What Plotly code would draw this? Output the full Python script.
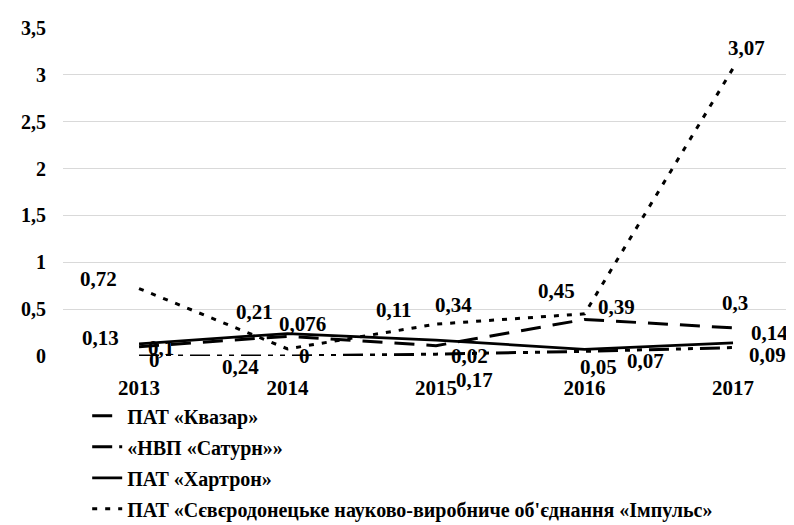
import plotly.graph_objects as go

years = ["2013", "2014", "2015", "2016", "2017"]
series_names = [
    "ПАТ «Квазар»",
    "«НВП «Сатурн»»",
    "ПАТ «Хартрон»",
    "ПАТ «Сєвєродонецьке науково-виробниче об'єднання «Імпульс»",
]
kvazar = [0.1, 0.21, 0.11, 0.39, 0.3]
saturn = [0, 0, 0.02, 0.05, 0.09]
hartron = [0.13, 0.24, 0.17, 0.07, 0.14]
impuls = [0.72, 0.076, 0.34, 0.45, 3.07]
y_ticks = [0, 0.5, 1, 1.5, 2, 2.5, 3, 3.5]

# label offsets in pixels (dx right, dy down) relative to each point
label_offsets = [
    [(22, 1), (-33, -24), (-42, -36), (32, -12), (2, -25)],
    [(15, 4), (17, 0), (33, 2), (14, 16), (34, 7)],
    [(-39, -6), (-47, 33), (38, 40), (61, 12), (36, -10)],
    [(-41, -10), (15, -25), (17, -19), (-28, -23), (13, -20)],
]
dashes = ["20px,12px", "20px,7px,5px,7px,5px,7px", "solid", "5px,8px"]
widths = [3, 3, 2.75, 3]

FONT = "Liberation Serif, Times New Roman, serif"
all_series = [kvazar, saturn, hartron, impuls]

fig = go.Figure()
for i, (name, vals) in enumerate(zip(series_names, all_series)):
    fig.add_trace(go.Scatter(
        x=years, y=vals, mode="lines", name=name,
        line=dict(color="black", width=widths[i], dash=dashes[i]),
        legendgroup=f"g{i}", hoverinfo="skip",
    ))

def fmt(v):
    return ("%g" % v).replace(".", ",")

annotations = []
for vals, offs in zip(all_series, label_offsets):
    for idx, (v, (dx, dy)) in enumerate(zip(vals, offs)):
        annotations.append(dict(
            x=idx, y=v, xref="x", yref="y", text="<b>" + fmt(v) + "</b>",
            showarrow=False, xshift=dx, yshift=-dy,
            font=dict(family=FONT, size=21, color="black"),
        ))

fig.update_layout(
    width=794, height=525,
    margin=dict(l=55, r=6, t=20, b=177, autoexpand=False),
    paper_bgcolor="white", plot_bgcolor="white",
    separators=", ",
    font=dict(family=FONT, size=20, color="black", weight="bold"),
    annotations=annotations,
    showlegend=True,
    legend=dict(
        orientation="v", x=0.033, xanchor="left", y=-0.123, yanchor="top",
        font=dict(family=FONT, size=20, color="black", weight="bold"),
        tracegroupgap=2, traceorder="grouped",
        bgcolor="rgba(0,0,0,0)",
    ),
    xaxis=dict(
        type="category", range=[-0.512, 4.424],
        showgrid=False, zeroline=False, showline=False, ticks="",
        tickfont=dict(family=FONT, size=21, color="black", weight="bold"),
        ticklabelstandoff=17,
    ),
    yaxis=dict(
        range=[0, 3.5], tickvals=y_ticks,
        showgrid=True, gridcolor="#d9d9d9", gridwidth=1,
        zeroline=False, showline=False, ticks="",
        tickfont=dict(family=FONT, size=20, color="black", weight="bold"),
        ticklabelstandoff=16,
    ),
)

fig.write_html("out.html")
